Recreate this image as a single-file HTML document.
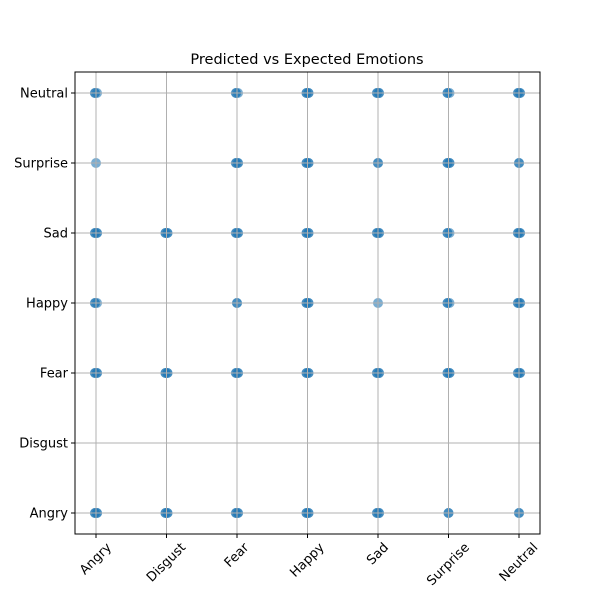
<!DOCTYPE html>
<html><head><meta charset="utf-8"><style>body{margin:0;background:#fff}svg{font-family:"DejaVu Sans","Liberation Sans",sans-serif}</style></head>
<body>
<svg id="c" width="600" height="600">
<rect width="600" height="600" fill="#fff"/>
<text x="307" y="64" font-size="14.5" text-anchor="middle">Predicted vs Expected Emotions</text>
<g id="pts"></g><g id="grid"></g><g id="axes"></g>
</svg>
<script>
const categories = ["Angry","Disgust","Fear","Happy","Sad","Surprise","Neutral"];
const pointX = [0,2,3,4,5,6, 0,2,3,4,5,6, 0,1,2,3,4,5,6, 0,2,3,4,5,6, 0,1,2,3,4,5,6, 0,1,2,3,4,5,6];
const pointY = [6,6,6,6,6,6, 5,5,5,5,5,5, 4,4,4,4,4,4,4, 3,3,3,3,3,3, 2,2,2,2,2,2,2, 0,0,0,0,0,0,0];
const pointCount = [3,3,4,4,3,4, 1,4,4,2,4,2, 4,4,4,4,4,3,4, 3,2,4,1,3,4, 4,4,4,4,4,4,4, 4,4,4,4,4,2,2];
const L=75,R=540,T=72,B=534;
const xs=i=>96+i*(519-96)/6, ys=i=>513-i*(513-93)/6;
const NS="http://www.w3.org/2000/svg";
function mk(t,a,p){const e=document.createElementNS(NS,t);for(const k in a)e.setAttribute(k,a[k]);p.appendChild(e);return e;}
const pts=document.getElementById('pts'),grid=document.getElementById('grid'),axes=document.getElementById('axes');
pointX.forEach((xi,k)=>{
  const n=pointCount[k];
  for(let j=0;j<n;j++){
    const off=n>=3?(j%2?1:-1):0;
    const c=mk('circle',{cx:xs(xi)+off,cy:ys(pointY[k]),r:5,fill:'#1f77b4','fill-opacity':0.6},pts);
    
    
  }
});
categories.forEach((c,i)=>{
  const g1=mk('line',{x1:xs(i),x2:xs(i),y1:T,y2:B,stroke:'#b0b0b0','stroke-width':1},grid);
  
  
  const g2=mk('line',{x1:L,x2:R,y1:ys(i),y2:ys(i),stroke:'#b0b0b0','stroke-width':1},grid);
  
  
  mk('line',{x1:xs(i),x2:xs(i),y1:B,y2:B+4,stroke:'#000'},axes);
  mk('line',{x1:L-4,x2:L,y1:ys(i),y2:ys(i),stroke:'#000'},axes);
  const tx=mk('text',{x:0,y:0,'font-size':13,'text-anchor':'middle','dominant-baseline':'central'},axes);
  tx.textContent=c;
  
  
  const w=tx.getComputedTextLength(), h=13;
  const bh=(w+h)*0.7071;
  const cy=B+7+bh/2;
  tx.setAttribute('transform',`translate(${xs(i)} ${cy}) rotate(-45)`);
  const ty=mk('text',{x:L-7,y:ys(i)+4.5,'font-size':13,'text-anchor':'end'},axes);
  ty.textContent=c;
  
  
});
const f=mk('rect',{x:L,y:T,width:R-L,height:B-T,fill:'none',stroke:'#000','stroke-width':1},axes);


</script>
</body></html>
